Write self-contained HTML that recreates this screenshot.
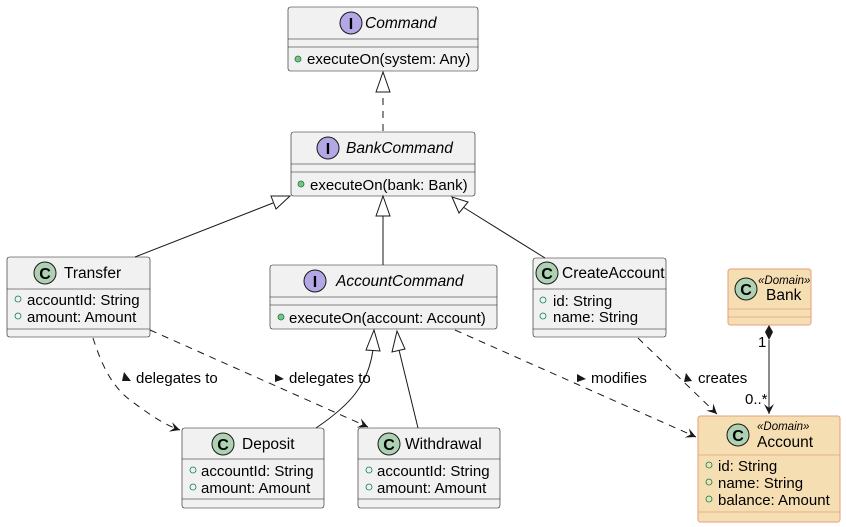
<!DOCTYPE html>
<html><head><meta charset="utf-8"><style>
html,body{margin:0;padding:0;background:#fff}
svg{display:block;font-family:"Liberation Sans","DejaVu Sans",sans-serif}
.b{fill:#f1f1f1;stroke:#181818;stroke-width:0.6}
.d{fill:#f6deb3;stroke:#e59d7c;stroke-width:1}
.ln{stroke:#181818;stroke-width:0.6}
.ld{stroke:#e59d7c;stroke-width:0.8}
.t{font-size:15.5px;fill:#000}
.it{font-size:15.5px;font-style:italic;fill:#000}
.m{font-size:15px;fill:#000}
.e{stroke:#181818;stroke-width:1;fill:none}
.dash{stroke-dasharray:7,6}
.ci{fill:#add1b2;stroke:#181818;stroke-width:1}
.ii{fill:#b4a7e5;stroke:#181818;stroke-width:1}
.g{font-size:16px;font-weight:bold;fill:#000}
</style></head><body>
<svg width="846" height="527" viewBox="0 0 846 527">
<defs>
<marker id="ar" markerWidth="12" markerHeight="10" refX="10" refY="5" orient="auto" markerUnits="userSpaceOnUse">
<path d="M0,0 L10,5 L0,10 L4,5 Z" fill="#181818"/></marker>
</defs>

<!-- Command -->
<rect class="b" x="288" y="7" width="190" height="64" rx="2.5"/>
<line class="ln" x1="288" y1="39" x2="478" y2="39"/><line class="ln" x1="288" y1="47" x2="478" y2="47"/>
<circle class="ii" cx="351" cy="23" r="11"/><text class="g" x="351" y="29" text-anchor="middle">I</text>
<text class="it" x="365" y="28">Command</text>
<circle cx="298" cy="59" r="3" fill="#84be84" stroke="#038048" stroke-width="0.8"/>
<text class="m" x="307" y="64">executeOn(system: Any)</text>

<!-- BankCommand -->
<rect class="b" x="291" y="132" width="184" height="64" rx="2.5"/>
<line class="ln" x1="291" y1="164" x2="475" y2="164"/><line class="ln" x1="291" y1="172" x2="475" y2="172"/>
<circle class="ii" cx="328" cy="148" r="11"/><text class="g" x="328" y="154" text-anchor="middle">I</text>
<text class="it" x="346" y="153">BankCommand</text>
<circle cx="301" cy="184" r="3" fill="#84be84" stroke="#038048" stroke-width="0.8"/>
<text class="m" x="310" y="190">executeOn(bank: Bank)</text>

<!-- Transfer -->
<rect class="b" x="7" y="257" width="143" height="80" rx="2.5"/>
<line class="ln" x1="7" y1="289" x2="150" y2="289"/><line class="ln" x1="7" y1="329" x2="150" y2="329"/>
<circle class="ci" cx="45" cy="273" r="11"/><text class="g" x="45" y="279" text-anchor="middle">C</text>
<text class="t" x="64" y="278">Transfer</text>
<circle cx="18" cy="299" r="3" fill="none" stroke="#038048" stroke-width="0.8"/>
<text class="m" x="27" y="305">accountId: String</text>
<circle cx="18" cy="316" r="3" fill="none" stroke="#038048" stroke-width="0.8"/>
<text class="m" x="27" y="322">amount: Amount</text>

<!-- AccountCommand -->
<rect class="b" x="270" y="265" width="227" height="64" rx="2.5"/>
<line class="ln" x1="270" y1="297" x2="497" y2="297"/><line class="ln" x1="270" y1="305" x2="497" y2="305"/>
<circle class="ii" cx="315" cy="281" r="11"/><text class="g" x="315" y="287" text-anchor="middle">I</text>
<text class="it" x="336" y="286">AccountCommand</text>
<circle cx="281" cy="317" r="3" fill="#84be84" stroke="#038048" stroke-width="0.8"/>
<text class="m" x="289" y="323">executeOn(account: Account)</text>

<!-- CreateAccount -->
<rect class="b" x="533" y="258" width="133" height="79" rx="2.5"/>
<line class="ln" x1="533" y1="289" x2="666" y2="289"/><line class="ln" x1="533" y1="329" x2="666" y2="329"/>
<circle class="ci" cx="547" cy="273" r="11"/><text class="g" x="547" y="279" text-anchor="middle">C</text>
<text class="t" x="562" y="278">CreateAccount</text>
<circle cx="543" cy="300" r="3" fill="none" stroke="#038048" stroke-width="0.8"/>
<text class="m" x="553" y="306">id: String</text>
<circle cx="543" cy="316" r="3" fill="none" stroke="#038048" stroke-width="0.8"/>
<text class="m" x="553" y="322">name: String</text>

<!-- Bank -->
<rect class="d" x="728" y="269" width="83" height="56" rx="2.5"/>
<line class="ld" x1="728" y1="309" x2="811" y2="309"/><line class="ld" x1="728" y1="317" x2="811" y2="317"/>
<circle class="ci" cx="746" cy="289" r="11"/><text class="g" x="746" y="295" text-anchor="middle">C</text>
<text x="758" y="284" style="font-size:11.5px;font-style:italic">«Domain»</text>
<text class="t" x="766" y="300">Bank</text>

<!-- Deposit -->
<rect class="b" x="182" y="428" width="142" height="80" rx="2.5"/>
<line class="ln" x1="182" y1="459" x2="324" y2="459"/><line class="ln" x1="182" y1="499" x2="324" y2="499"/>
<circle class="ci" cx="223" cy="444" r="11"/><text class="g" x="223" y="450" text-anchor="middle">C</text>
<text class="t" x="242" y="449">Deposit</text>
<circle cx="193" cy="470" r="3" fill="none" stroke="#038048" stroke-width="0.8"/>
<text class="m" x="201" y="476">accountId: String</text>
<circle cx="193" cy="487" r="3" fill="none" stroke="#038048" stroke-width="0.8"/>
<text class="m" x="201" y="493">amount: Amount</text>

<!-- Withdrawal -->
<rect class="b" x="358" y="428" width="142" height="80" rx="2.5"/>
<line class="ln" x1="358" y1="459" x2="500" y2="459"/><line class="ln" x1="358" y1="499" x2="500" y2="499"/>
<circle class="ci" cx="389" cy="444" r="11"/><text class="g" x="389" y="450" text-anchor="middle">C</text>
<text class="t" x="405" y="449">Withdrawal</text>
<circle cx="369" cy="470" r="3" fill="none" stroke="#038048" stroke-width="0.8"/>
<text class="m" x="377" y="476">accountId: String</text>
<circle cx="369" cy="487" r="3" fill="none" stroke="#038048" stroke-width="0.8"/>
<text class="m" x="377" y="493">amount: Amount</text>

<!-- Account -->
<rect class="d" x="698" y="416" width="142" height="106" rx="2.5"/>
<line class="ld" x1="698" y1="455" x2="840" y2="455"/><line class="ld" x1="698" y1="512" x2="840" y2="512"/>
<circle class="ci" cx="738" cy="435" r="11"/><text class="g" x="738" y="441" text-anchor="middle">C</text>
<text x="757" y="430" style="font-size:11.5px;font-style:italic">«Domain»</text>
<text class="t" x="757" y="447">Account</text>
<circle cx="709" cy="465" r="3" fill="none" stroke="#038048" stroke-width="0.8"/>
<text class="m" x="718" y="471">id: String</text>
<circle cx="709" cy="482" r="3" fill="none" stroke="#038048" stroke-width="0.8"/>
<text class="m" x="718" y="488">name: String</text>
<circle cx="709" cy="499" r="3" fill="none" stroke="#038048" stroke-width="0.8"/>
<text class="m" x="718" y="505">balance: Amount</text>

<line class="e dash" x1="383" y1="131" x2="383" y2="92"/>
<path d="M376,92 L383,72 L390,92 Z" fill="#fff" stroke="#181818"/>

<line class="e" x1="135" y1="257" x2="273" y2="203"/>
<path d="M290,196 L271,196 L276,209 Z" fill="#fff" stroke="#181818"/>
<line class="e" x1="383" y1="265" x2="383" y2="216"/>
<path d="M376,216 L383,196 L390,216 Z" fill="#fff" stroke="#181818"/>
<line class="e" x1="545" y1="258" x2="463" y2="207"/>
<path d="M452,197 L459,213 L468,202 Z" fill="#fff" stroke="#181818"/>

<path class="e" d="M316,428 C350,405 368,385 373,350"/>
<path d="M366,350 L374,330 L380,351 Z" fill="#fff" stroke="#181818"/>
<line class="e" x1="418" y1="428" x2="399" y2="350"/>
<path d="M392,352 L397,331 L405,349 Z" fill="#fff" stroke="#181818"/>

<path class="e dash" d="M93,338 C100,360 110,385 130,400 C150,415 165,425 180,430" marker-end="url(#ar)"/>
<path d="M124,372 L131,381 L122,381 Z" fill="#181818"/>
<text class="m" x="136" y="383">delegates to</text>
<path class="e dash" d="M150,330 L368,427" marker-end="url(#ar)"/>
<path d="M275,374 L284,379 L275,382 Z" fill="#181818"/>
<text class="m" x="289" y="383">delegates to</text>
<path class="e dash" d="M455,330 L696,437" marker-end="url(#ar)"/>
<path d="M577,374 L586,379 L577,382 Z" fill="#181818"/>
<text class="m" x="591" y="383">modifies</text>
<path class="e dash" d="M638,338 L717,414" marker-end="url(#ar)"/>
<path d="M686,373 L692,381 L684,382 Z" fill="#181818"/>
<text class="m" x="698" y="383">creates</text>

<line class="e" x1="769" y1="340" x2="769" y2="414" marker-end="url(#ar)"/>
<path d="M769,325 L773,332 L769,340 L765,332 Z" fill="#181818"/>
<text class="m" x="758" y="347">1</text>
<text class="m" x="745" y="404">0..*</text>
</svg>
</body></html>
